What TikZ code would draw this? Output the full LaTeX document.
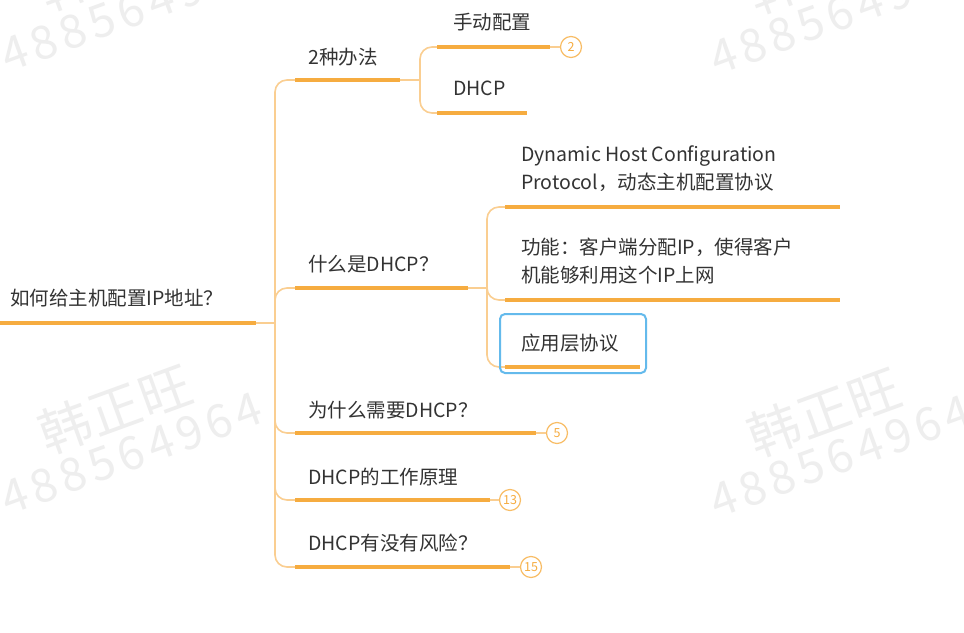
\documentclass[tikz,border=0pt]{standalone}
\usepackage{fontspec}
\setmainfont{Noto Sans CJK SC}
\newfontfamily\wmcn[LetterSpace=3]{Noto Sans CJK SC}
\newfontfamily\wmnum[LetterSpace=12]{Noto Sans CJK SC}
\definecolor{thickor}{RGB}{246,172,64}
\definecolor{thinor}{RGB}{250,206,145}
\definecolor{txt}{RGB}{51,51,51}
\definecolor{selblue}{RGB}{100,186,236}
\definecolor{wmgray}{RGB}{238,238,238}
\begin{document}
\begin{tikzpicture}[x=1pt,y=-1pt,
  topic/.style={anchor=west,inner sep=0pt,text=txt,font=\fontsize{19.5}{28}\selectfont,align=left},
  uline/.style={draw=thickor,line width=4pt},
  conn/.style={draw=thinor,line width=1.6pt,rounded corners=12pt},
  badge/.style={circle,draw=thickor!80,line width=1.2pt,minimum size=21pt,inner sep=0pt,text=thickor,font=\fontsize{12.5}{12.5}\selectfont},
  wmark/.style={rotate=20,inner sep=0pt,text=wmgray,align=center,font=\fontsize{46}{44}\selectfont}
]
\useasboundingbox (0,0) rectangle (964,632);
\fill[white] (0,0) rectangle (964,632);

% watermarks
\begin{scope}
\clip (0,0) rectangle (964,632);
\node[wmark] (w1) at (122,-15) {{\wmcn\fontsize{52}{44}\selectfont 韩正旺}\\{\wmnum 488564964}};
\node[wmark] (w2) at (831,-12) {{\wmcn\fontsize{52}{44}\selectfont 韩正旺}\\{\wmnum 488564964}};
\node[wmark] (w3) at (122,428) {{\wmcn\fontsize{52}{44}\selectfont 韩正旺}\\{\wmnum 488564964}};
\node[wmark] (w4) at (831,431) {{\wmcn\fontsize{52}{44}\selectfont 韩正旺}\\{\wmnum 488564964}};
\end{scope}

% root
\node[topic] (root) at (10,298) {如何给主机配置IP地址？};
\coordinate (rootA) at (0,323);
\coordinate (rootB) at (256,323);
\coordinate (trunk) at (275,323);

% level 1
\node[topic] (t1) at (308,57) {2种办法};
\coordinate (t1A) at (295,80); \coordinate (t1B) at (400,80);
\node[topic] (t2) at (308,264) {什么是DHCP？};
\coordinate (t2A) at (295,288); \coordinate (t2B) at (468,288);
\node[topic] (t3) at (308,410) {为什么需要DHCP？};
\coordinate (t3A) at (295,433); \coordinate (t3B) at (536,433);
\node[topic] (t4) at (308,477) {DHCP的工作原理};
\coordinate (t4A) at (295,500); \coordinate (t4B) at (490,500);
\node[topic] (t5) at (308,543) {DHCP有没有风险？};
\coordinate (t5A) at (295,567); \coordinate (t5B) at (510,567);

% level 2 under 2种办法
\coordinate (j1) at (420,80);
\node[topic] (s1) at (453,22) {手动配置};
\coordinate (s1A) at (437,47); \coordinate (s1B) at (550,47);
\node[topic] (s2) at (453,88) {DHCP};
\coordinate (s2A) at (437,113); \coordinate (s2B) at (527,113);

% level 2 under 什么是DHCP
\coordinate (j2) at (487,288);
\node[topic] (d1) at (521,169) {Dynamic Host Configuration\\Protocol，动态主机配置协议};
\coordinate (d1A) at (505,207); \coordinate (d1B) at (840,207);
\node[topic] (d2) at (521,261) {功能：客户端分配IP，使得客户\\机能够利用这个IP上网};
\coordinate (d2A) at (505,300); \coordinate (d2B) at (840,300);
\node[topic] (d3) at (521,343) {应用层协议};
\coordinate (d3A) at (505,367); \coordinate (d3B) at (640,367);

% badges
\node[badge] (b2) at (571,47) {2};
\node[badge] (b5) at (557,433) {5};
\node[badge] (b13) at (510,500) {13};
\node[badge] (b15) at (531,567) {15};

% connectors
\draw[conn] (rootB) -- (trunk);
\foreach \c in {t1A,t2A,t3A,t4A,t5A} \draw[conn] (trunk) |- (\c);
\draw[conn] (t1B) -- (j1);
\foreach \c in {s1A,s2A} \draw[conn] (j1) |- (\c);
\draw[conn] (t2B) -- (j2);
\foreach \c in {d1A,d2A,d3A} \draw[conn] (j2) |- (\c);
\draw[conn] (s1B) -- (b2);
\draw[conn] (t3B) -- (b5);
\draw[conn] (t4B) -- (b13);
\draw[conn] (t5B) -- (b15);

% underlines
\foreach \n in {root,t1,t2,t3,t4,t5,s1,s2,d1,d2,d3} \draw[uline] (\n A) -- (\n B);

% selection box
\draw[selblue,line width=2pt,rounded corners=5pt] (500,314) rectangle (646,373);
\end{tikzpicture}
\end{document}
